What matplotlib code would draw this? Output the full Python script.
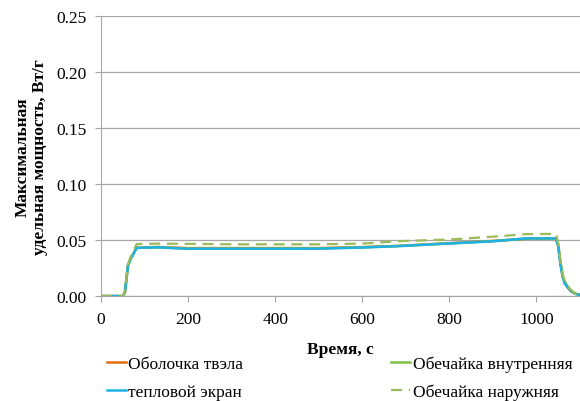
import matplotlib
matplotlib.use("Agg")
import matplotlib.pyplot as plt

plt.rcParams['font.family'] = ['Liberation Serif', 'DejaVu Serif']

# time, s
t = [0, 50, 55, 62, 68, 82, 130, 200, 300, 400, 500, 600, 685, 800, 900, 977, 1045,
     1050, 1055, 1060, 1065, 1071, 1080, 1090, 1100]

# max specific power, W/g
shell = [0, 0, 0.003, 0.027, 0.033, 0.043, 0.0438, 0.0428, 0.0428, 0.0428, 0.0428, 0.0437, 0.0448,
         0.0472, 0.0492, 0.0512, 0.0512, 0.045, 0.030, 0.018, 0.012, 0.008, 0.004, 0.002, 0.001]
inner = [0, 0, 0.003, 0.027, 0.033, 0.043, 0.0435, 0.0424, 0.0424, 0.0424, 0.0425, 0.0435, 0.0447,
         0.0470, 0.0490, 0.0512, 0.0513, 0.046, 0.031, 0.019, 0.013, 0.009, 0.005, 0.002, 0.001]
screen = [0, 0, 0.003, 0.027, 0.033, 0.043, 0.0435, 0.0422, 0.0422, 0.0422, 0.0423, 0.0433, 0.0446,
          0.0469, 0.0489, 0.0515, 0.0515, 0.044, 0.028, 0.017, 0.011, 0.008, 0.004, 0.002, 0.001]
outer = [0, 0, 0.003, 0.028, 0.035, 0.0464, 0.0468, 0.0466, 0.0462, 0.0462, 0.0462, 0.0468, 0.049,
         0.0505, 0.053, 0.0553, 0.0555, 0.047, 0.031, 0.019, 0.013, 0.009, 0.005, 0.002, 0.001]

fig = plt.figure(figsize=(5.8, 4.02), dpi=100)
ax = fig.add_axes([0.174, 0.261, 0.826, 0.697])

l1, = ax.plot(t, shell, color='#E46C0A', lw=1.8)
l2, = ax.plot(t, inner, color='#7DC242', lw=1.8)
l3, = ax.plot(t, screen, color='#1EB1E6', lw=1.8)
l4, = ax.plot(t, outer, color='#9BBB59', lw=1.6, dashes=(5, 3))

ax.set_xlim(0, 1100)
ax.set_ylim(0, 0.25)
ax.set_xticks([0, 200, 400, 600, 800, 1000])
ax.set_yticks([0, 0.05, 0.10, 0.15, 0.20, 0.25])
ax.set_yticklabels([f"{v:.2f}" for v in ax.get_yticks()])
ax.yaxis.grid(True, color='#A6A6A6', lw=0.9)
ax.set_axisbelow(True)
for s in ['top', 'right']:
    ax.spines[s].set_visible(False)
for s in ['left', 'bottom']:
    ax.spines[s].set_color('#A6A6A6')
ax.tick_params(colors='#A6A6A6', labelcolor='black', labelsize=12.5, length=4.5)
ax.tick_params(axis='y', pad=6)
ax.tick_params(axis='x', pad=6)

ax.set_xlabel('Время, с', fontweight='bold', fontsize=12.5, labelpad=10)
ax.set_ylabel('Максимальная\nудельная мощность, Вт/г', fontweight='bold', fontsize=12.5,
              labelpad=6, linespacing=1.05)

fig.legend([l1, l3, l2, l4],
           ['Оболочка твэла', 'тепловой экран', 'Обечайка внутренняя', 'Обечайка наружняя'],
           ncol=2, loc='upper left', bbox_to_anchor=(0.157, 0.153), frameon=False,
           fontsize=12.5, handlelength=1.1, handletextpad=0.15, columnspacing=8.5,
           labelspacing=0.7)

fig.savefig('out.png', dpi=100)
